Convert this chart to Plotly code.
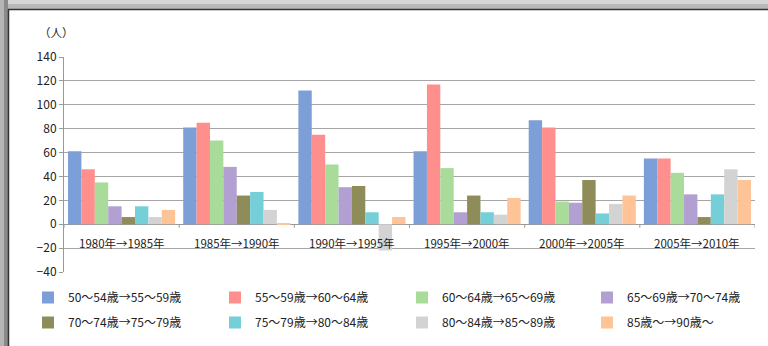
import plotly.graph_objects as go

categories = ["1980年→1985年", "1985年→1990年", "1990年→1995年",
              "1995年→2000年", "2000年→2005年", "2005年→2010年"]

series_names = ["50～54歳→55～59歳", "55～59歳→60～64歳", "60～64歳→65～69歳",
                "65～69歳→70～74歳", "70～74歳→75～79歳", "75～79歳→80～84歳",
                "80～84歳→85～89歳", "85歳～→90歳～"]

s1 = [61, 81, 112, 61, 87, 55]
s2 = [46, 85, 75, 117, 81, 55]
s3 = [35, 70, 50, 47, 19, 43]
s4 = [15, 48, 31, 10, 18, 25]
s5 = [6, 24, 32, 24, 37, 6]
s6 = [15, 27, 10, 10, 9, 25]
s7 = [6, 12, -22, 8, 17, 46]
s8 = [12, 1, 6, 22, 24, 37]
series_values = [s1, s2, s3, s4, s5, s6, s7, s8]

colors = ["#7C9FD8", "#FF8F8C", "#A9DC9B", "#B2A0D2",
          "#8E8C58", "#74CFD9", "#D3D3D3", "#FEC397"]

y_ticks = [-40, -20, 0, 20, 40, 60, 80, 100, 120, 140]

FONT = "Noto Sans CJK JP"

# layout geometry (pixels)
W, H = 768, 346
L, R, T, B = 64, 13, 57, 74
pw, ph = W - L - R, H - T - B


def px_x(p):
    return (p - L) / pw


def px_y(p):
    return (H - B - p) / ph


# legend columns (text start x in px), two rows per column
legend_text_x = [68, 255, 442, 627]
legend_keys = ["legend", "legend2", "legend3", "legend4"]

fig = go.Figure()
xs = list(range(len(categories)))
for k, (name, vals, col) in enumerate(zip(series_names, series_values, colors)):
    fig.add_trace(go.Bar(x=xs, y=vals, name=name, marker_color=col,
                         marker_line_width=0, legendgroup=name,
                         legend=legend_keys[k % 4]))

annotations = []
for i, c in enumerate(categories):
    annotations.append(dict(x=i, y=-7, xref="x", yref="y", text=c,
                            showarrow=False, yanchor="top", xanchor="center",
                            font=dict(family=FONT, size=11.5, color="#222")))
annotations.append(dict(x=px_x(56), y=px_y(32), xref="paper", yref="paper",
                        text="（人）", showarrow=False,
                        xanchor="center", yanchor="middle",
                        font=dict(family=FONT, size=11.5, color="#222")))

shapes = []
# category boundary tick marks on the zero axis
for i in range(len(categories) + 1):
    shapes.append(dict(type="line", xref="x", yref="y", x0=i - 0.5, x1=i - 0.5,
                       y0=0, y1=-3, line=dict(color="#999", width=1)))
# frame strips
shapes += [
    dict(type="rect", xref="paper", yref="paper", x0=px_x(0), x1=px_x(W),
         y0=px_y(0), y1=px_y(4), fillcolor="#d6d6d6", line_width=0, layer="below"),
    dict(type="rect", xref="paper", yref="paper", x0=px_x(0), x1=px_x(W),
         y0=px_y(4), y1=px_y(9), fillcolor="#b8b8b8", line_width=0, layer="below"),
    dict(type="rect", xref="paper", yref="paper", x0=px_x(0), x1=px_x(8),
         y0=px_y(0), y1=px_y(H), fillcolor="#8a8a8a", line_width=0, layer="below"),
    dict(type="rect", xref="paper", yref="paper", x0=px_x(0), x1=px_x(4),
         y0=px_y(0), y1=px_y(H), fillcolor="#b5b5b5", line_width=0, layer="below"),
    dict(type="line", xref="paper", yref="paper", x0=px_x(8), x1=px_x(W),
         y0=px_y(9.5), y1=px_y(9.5), line=dict(color="#333", width=1.5), layer="below"),
    dict(type="line", xref="paper", yref="paper", x0=px_x(8.5), x1=px_x(8.5),
         y0=px_y(9), y1=px_y(H), line=dict(color="#333", width=1.5), layer="below"),
]

legend_common = dict(orientation="v", xref="container", yref="container",
                     xanchor="left", yanchor="top",
                     font=dict(family=FONT, size=12, color="#222"),
                     itemwidth=30, tracegroupgap=6, traceorder="grouped",
                     bgcolor="rgba(0,0,0,0)", borderwidth=0)
legend_layout = {}
for key, tx in zip(legend_keys, legend_text_x):
    legend_layout[key] = dict(legend_common, x=(tx - 40) / W, y=1 - 283 / H)

fig.update_layout(
    width=W, height=H,
    margin=dict(l=L, r=R, t=T, b=B, autoexpand=False),
    paper_bgcolor="white", plot_bgcolor="rgba(0,0,0,0)",
    barmode="group", bargap=0.07, bargroupgap=0,
    font=dict(family=FONT, size=12, color="#222"),
    annotations=annotations, shapes=shapes,
    xaxis=dict(range=[-0.5, len(categories) - 0.5], showticklabels=False,
               showgrid=False, zeroline=False, showline=False, ticks=""),
    yaxis=dict(range=[-40, 140], tickvals=y_ticks, showgrid=True,
               gridcolor="#a6a6a6", gridwidth=1, zeroline=True,
               zerolinecolor="#999", zerolinewidth=1,
               showline=True, linecolor="#999", linewidth=1,
               ticks="outside", ticklen=4, tickcolor="#999",
               tickfont=dict(family=FONT, size=12, color="#222")),
    **legend_layout,
)

fig.write_html("out.html")
